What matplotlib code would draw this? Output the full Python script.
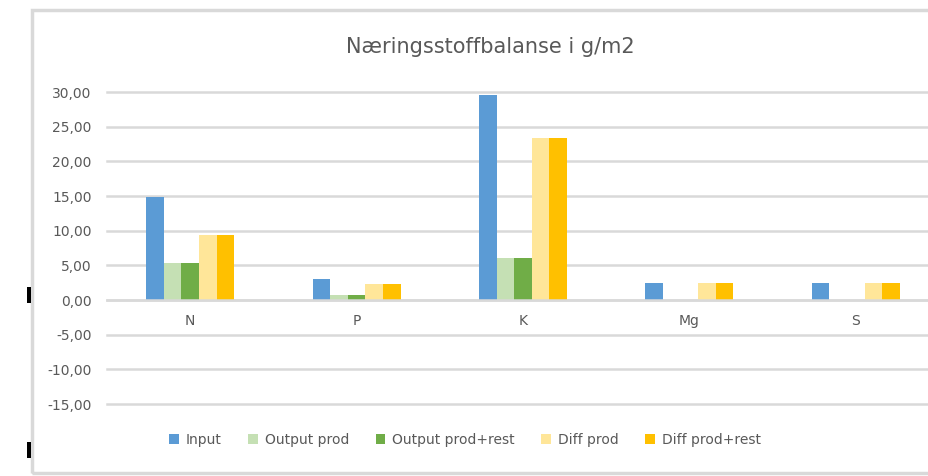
import matplotlib
matplotlib.use("Agg")
import matplotlib.pyplot as plt
from matplotlib.patches import Rectangle
import numpy as np

categories = ["N", "P", "K", "Mg", "S"]
input_vals = [14.8, 3.0, 29.6, 2.5, 2.5]
output_prod = [5.4, 0.7, 6.0, 0.0, 0.0]
output_prod_rest = [5.4, 0.7, 6.0, 0.0, 0.0]
diff_prod = [9.4, 2.3, 23.4, 2.5, 2.5]
diff_prod_rest = [9.4, 2.3, 23.4, 2.5, 2.5]
series_names = ["Input", "Output prod", "Output prod+rest", "Diff prod", "Diff prod+rest"]
colors = ["#5B9BD5", "#C5E0B4", "#70AD47", "#FFE699", "#FFC000"]
yticks = [30, 25, 20, 15, 10, 5, 0, -5, -10, -15]
title = "Næringsstoffbalanse i g/m2"

W, H = 929, 476
fig = plt.figure(figsize=(W / 100, H / 100), dpi=100)
plt.rcParams['font.family'] = ['DejaVu Sans']

ax = fig.add_axes([107 / W, 1 - 404 / H, (939 - 107) / W, (404 - 92) / H])
x = np.arange(len(categories))
bw = 0.106
series = [input_vals, output_prod, output_prod_rest, diff_prod, diff_prod_rest]
for i, (vals, name, c) in enumerate(zip(series, series_names, colors)):
    ax.bar(x + (i - 2) * bw, vals, width=bw, color=c, label=name, zorder=3)

ax.set_xlim(-0.5, len(categories) - 0.5)
ax.set_ylim(-15, 30)
ax.set_yticks(yticks)
ax.set_yticklabels([f"{v:.2f}".replace(".", ",") for v in yticks])
ax.grid(axis='y', color='#D9D9D9', lw=1.8, zorder=0)
for gl in ax.get_ygridlines():
    gl.set_clip_on(False)
for s in ['top', 'right', 'left']:
    ax.spines[s].set_visible(False)
ax.spines['bottom'].set_position(('data', 0))
ax.spines['bottom'].set_color('#D9D9D9')
ax.spines['bottom'].set_linewidth(1.8)
ax.spines['bottom'].set_zorder(4)
ax.set_xticks(x)
ax.set_xticklabels(categories)
ax.tick_params(axis='x', length=0, pad=10, labelsize=10, labelcolor='#595959')
ax.tick_params(axis='y', length=0, pad=11, labelsize=10, labelcolor='#595959')

fig.text(490 / W, 1 - 47 / H, title, ha='center', va='center', fontsize=15, color='#595959')

handles, labels = ax.get_legend_handles_labels()
leg = fig.legend(handles, labels, loc='center', bbox_to_anchor=(465 / W, 1 - 440 / H),
                 ncol=5, frameon=False, fontsize=10, handlelength=0.7, handleheight=0.7,
                 handletextpad=0.5, columnspacing=1.9, labelcolor='#595959')

# chart frame (right side cut off in the reference)
fig.patches.append(Rectangle((32.5 / W, 1 - 473 / H), (960 - 32.5) / W, (473 - 10) / H,
                             transform=fig.transFigure, fill=False, ec='#D9D9D9', lw=2.5))
# black marks at left
for y0, y1 in [(287, 303), (442, 458)]:
    fig.patches.append(Rectangle((27 / W, 1 - y1 / H), 4 / W, (y1 - y0) / H,
                                 transform=fig.transFigure, fc='black', ec='none'))

fig.savefig("out.png", dpi=100)
